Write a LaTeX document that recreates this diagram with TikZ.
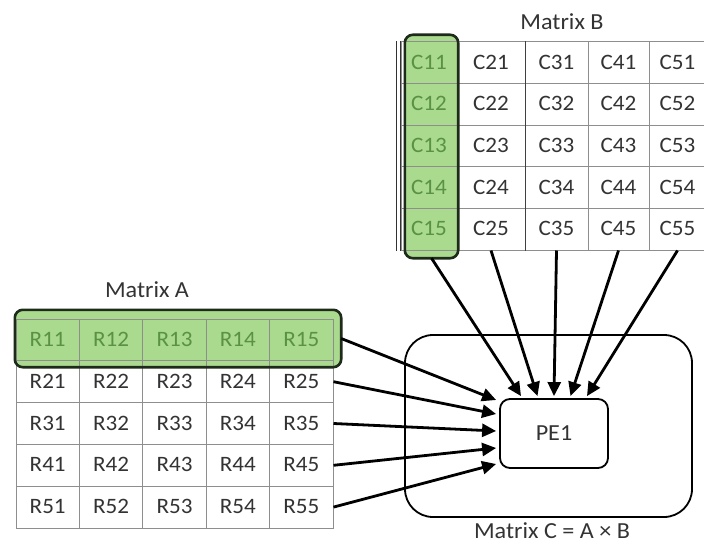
\documentclass[tikz,border=0pt]{standalone}
\usepackage{fontspec}
\setmainfont{Carlito}[FakeStretch=1.05]
\usetikzlibrary{arrows.meta,calc}

\definecolor{cellgreen}{HTML}{A9DA8E}
\definecolor{greentext}{HTML}{5A9144}
\definecolor{boxedge}{HTML}{1E2A1A}
\definecolor{gridgray}{HTML}{8E8E8E}
\definecolor{celltext}{HTML}{333333}

\tikzset{
  cell/.style={draw=gridgray, line width=1pt, inner sep=0pt, text=celltext,
    text height=14pt, text depth=1pt, font=\fontsize{22}{24}\selectfont},
  greencell/.style={cell, text=greentext},
  greenfill/.style={fill=cellgreen, draw=none, rounded corners=8pt, inner sep=0pt},
  greenedge/.style={draw=boxedge, line width=2.6pt, rounded corners=8pt},
  title/.style={font=\fontsize{23}{25}\selectfont, text=celltext},
  feed/.style={line width=2.8pt, -{Triangle[length=14pt,width=13pt]}},
}

\begin{document}
\begin{tikzpicture}[x=1pt, y=-1pt]
\useasboundingbox (0,0) rectangle (704,543);

% ---------- Matrix A (rows, first row highlighted) ----------
\node[greenfill, minimum width=326pt, minimum height=57pt] (rowA) at (178,338.5) {};
\foreach \r/\y in {1/339.9,2/381.7,3/423.5,4/465.3,5/507.1}{
  \foreach \c/\x in {1/47.7,2/111.1,3/174.5,4/237.9,5/301.3}{
    \ifnum\r=1
      \node[greencell, minimum width=63.4pt, minimum height=41.8pt] (a\r\c) at (\x,\y) {R\r\c};
    \else
      \node[cell, minimum width=63.4pt, minimum height=41.8pt] (a\r\c) at (\x,\y) {R\r\c};
    \fi
  }
}
\draw[greenedge] (rowA.north west) rectangle (rowA.south east);
\node[title] (labA) at (147,290) {Matrix A};

% ---------- Matrix B (columns, first column highlighted) ----------
\node[greenfill, minimum width=53pt, minimum height=223pt] (colB) at (431.5,146.5) {};
\foreach \r/\y in {1/62.8,2/104.4,3/146,4/187.6,5/229.2}{
  \foreach \c/\x/\w in {1/429/56,2/491/68,3/556.5/63,4/618.5/61,5/677.5/57}{
    \ifnum\c=1
      \node[greencell, minimum width=\w pt, minimum height=41.6pt] (b\c\r) at (\x,\y) {C\c\r};
    \else
      \node[cell, minimum width=\w pt, minimum height=41.6pt] (b\c\r) at (\x,\y) {C\c\r};
    \fi
  }
}
% darker rules of the B table
\draw[line width=1.1pt, black!80] (b11.north west) -- (b15.south west);
\draw[line width=1.1pt, black!80] ($(b11.north west)+(-4,0)$) -- ($(b15.south west)+(-4,0)$);
\draw[line width=1.1pt, black!75] (b21.north east) -- (b25.south east);
\draw[greenedge] (colB.north west) rectangle (colB.south east);
\node[title] (labB) at (562,22) {Matrix B};

% ---------- Processing element inside Matrix C ----------
\node[draw, line width=1.8pt, rounded corners=28pt, minimum width=287pt,
      minimum height=182pt] (matC) at (548.5,426) {};
\node[draw, line width=1.8pt, rounded corners=10pt, minimum width=108pt,
      minimum height=69pt, title] (pe) at (554,433.5) {PE1};
\node[title, anchor=base, inner sep=0pt, text depth=0pt] (labC) at (552,538) {Matrix C = A × B};

% arrow targets around PE1
\foreach \i/\dx in {1/-33,2/-16.5,3/0,4/16.5,5/33}
  \coordinate (top\i) at ($(pe.north)+(\dx,-2)$);
\foreach \i/\dy in {1/-33.5,2/-19.5,3/-2.5,4/14.5,5/30.5}
  \coordinate (left\i) at ($(pe.west)+(-3,\dy)$);

% rows of A feed PE1 from the left
\draw[feed] (rowA.east) -- (left1);
\foreach \r in {2,3,4,5}
  \draw[feed] (a\r5.east) -- (left\r);

% columns of B feed PE1 from above
\draw[feed] (colB.south) -- (top1);
\foreach \c in {2,3,4,5}
  \draw[feed] (b\c5.south) -- (top\c);

\end{tikzpicture}
\end{document}
